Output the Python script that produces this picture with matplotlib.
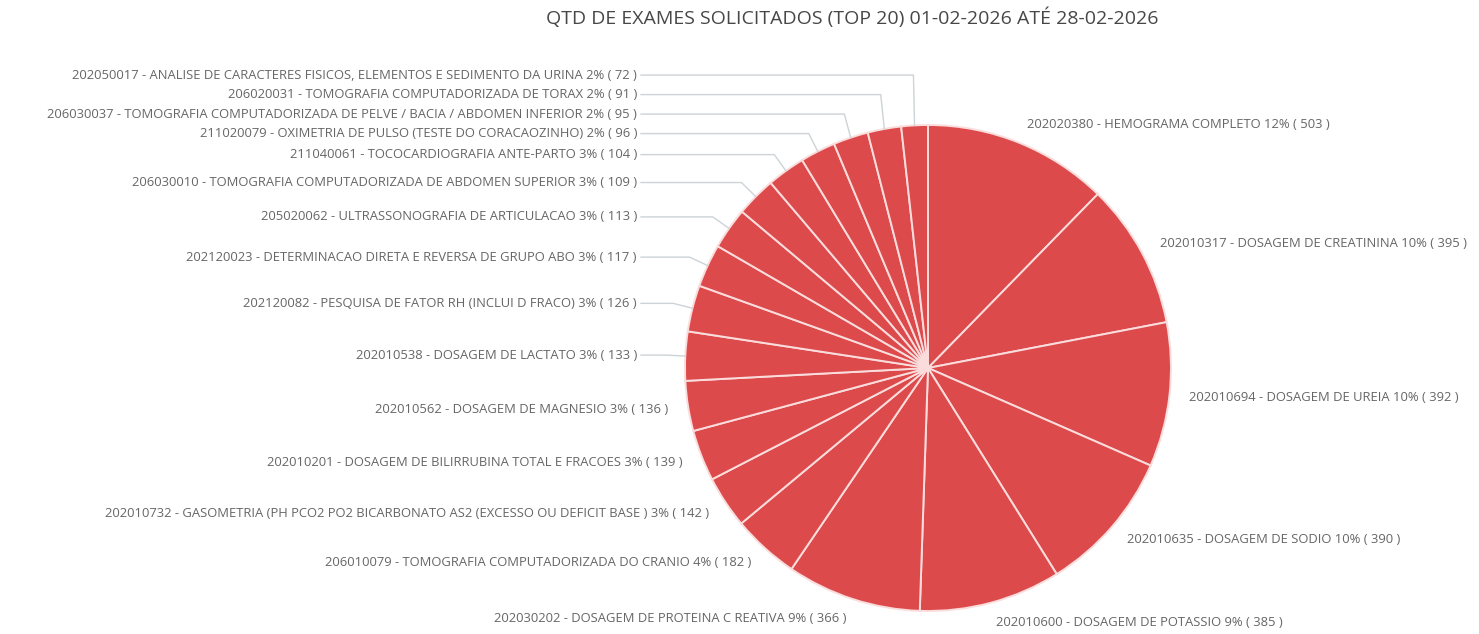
import numpy as np
import matplotlib.pyplot as plt

plt.rcParams['font.family'] = ['Open Sans', 'DejaVu Sans']

titulo = 'QTD DE EXAMES SOLICITADOS (TOP 20) 01-02-2026 ATÉ 28-02-2026'

codigos = ['202020380', '202010317', '202010694', '202010635', '202010600',
           '202030202', '206010079', '202010732', '202010201', '202010562',
           '202010538', '202120082', '202120023', '205020062', '206030010',
           '211040061', '211020079', '206030037', '206020031', '202050017']
exames = ['HEMOGRAMA COMPLETO',
          'DOSAGEM DE CREATININA',
          'DOSAGEM DE UREIA',
          'DOSAGEM DE SODIO',
          'DOSAGEM DE POTASSIO',
          'DOSAGEM DE PROTEINA C REATIVA',
          'TOMOGRAFIA COMPUTADORIZADA DO CRANIO',
          'GASOMETRIA (PH PCO2 PO2 BICARBONATO AS2 (EXCESSO OU DEFICIT BASE )',
          'DOSAGEM DE BILIRRUBINA TOTAL E FRACOES',
          'DOSAGEM DE MAGNESIO',
          'DOSAGEM DE LACTATO',
          'PESQUISA DE FATOR RH (INCLUI D FRACO)',
          'DETERMINACAO DIRETA E REVERSA DE GRUPO ABO',
          'ULTRASSONOGRAFIA DE ARTICULACAO',
          'TOMOGRAFIA COMPUTADORIZADA DE ABDOMEN SUPERIOR',
          'TOCOCARDIOGRAFIA ANTE-PARTO',
          'OXIMETRIA DE PULSO (TESTE DO CORACAOZINHO)',
          'TOMOGRAFIA COMPUTADORIZADA DE PELVE / BACIA / ABDOMEN INFERIOR',
          'TOMOGRAFIA COMPUTADORIZADA DE TORAX',
          'ANALISE DE CARACTERES FISICOS, ELEMENTOS E SEDIMENTO DA URINA']
qtd = [503, 395, 392, 390, 385, 366, 182, 142, 139, 136,
       133, 126, 117, 113, 109, 104, 96, 95, 91, 72]

W, H = 1479, 634
fig = plt.figure(figsize=(W / 100, H / 100), dpi=100)
ax = fig.add_axes([0, 0, 1, 1])

cx, cy, R = 928, H - 368, 243
cor = '#dc4a4b'
wedges, _ = ax.pie(qtd, startangle=90, counterclock=False, center=(cx, cy),
                   radius=R, colors=[cor] * len(qtd), frame=True,
                   wedgeprops=dict(edgecolor='#fbdcdc', linewidth=1.4))
ax.set_xlim(0, W)
ax.set_ylim(0, H)
ax.axis('off')

total = sum(qtd)
r_lab = R + 20      # ponta da linha / ancora do texto
x_alinhado = cx - R - 48
gap = 19.5
fs = 9.4
txt_cor = '#666666'
linha_cor = '#cdd3d6'

prev_y = None
for i, w in enumerate(wedges):
    ang = np.deg2rad((w.theta1 + w.theta2) / 2)
    pct = round(qtd[i] / total * 100)
    texto = f'{codigos[i]} - {exames[i]} {pct}% ( {qtd[i]} )'
    x = cx + r_lab * np.cos(ang)
    y = cy + r_lab * np.sin(ang)
    if np.cos(ang) >= 0:
        ax.text(x, y, texto, ha='left', va='center', fontsize=fs, color=txt_cor)
        continue
    # lado esquerdo: empurra para cima se sobrepor
    if prev_y is not None and y < prev_y + gap:
        y = prev_y + gap
    prev_y = y
    if np.sin(ang) >= 0:
        ex, ey = cx + R * np.cos(ang), cy + R * np.sin(ang)
        ax.plot([ex, x, x_alinhado + 4], [ey, y, y], color=linha_cor, lw=1,
                solid_joinstyle='round')
        ax.text(x_alinhado, y, texto, ha='right', va='center', fontsize=fs,
                color=txt_cor)
    else:
        ax.text(x, y, texto, ha='right', va='center', fontsize=fs, color=txt_cor)

ax.text(852, H - 18, titulo, ha='center', va='center', fontsize=14, color='#474747')

fig.savefig('out.png', dpi=100)
